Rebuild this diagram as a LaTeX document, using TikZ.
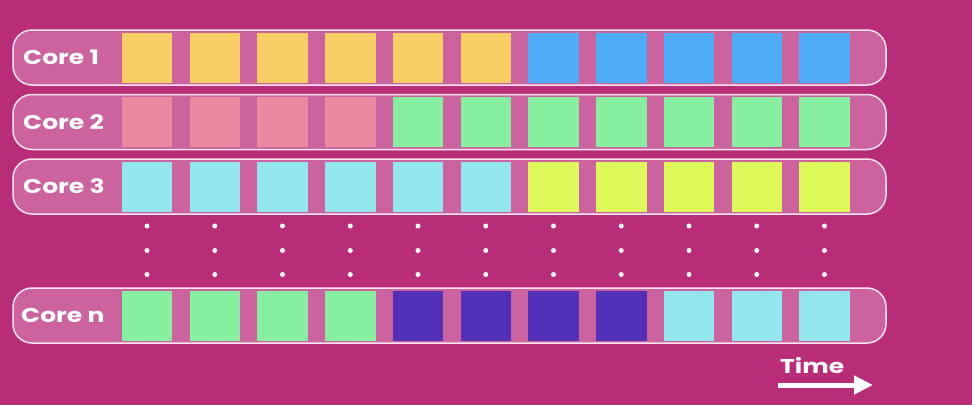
\documentclass[tikz,border=0pt]{standalone}
\usepackage{fontspec}
\setmainfont{Poppins}
\newfontfamily\corefont{Poppins}[FakeStretch=1.25]
\usepackage{tikz}
\usetikzlibrary{arrows.meta}
\definecolor{bgpink}{RGB}{185,45,120}
\definecolor{barpink}{RGB}{204,98,158}
\definecolor{rimpink}{RGB}{250,228,240}
\definecolor{cyel}{RGB}{246,206,100}
\definecolor{cblue}{RGB}{79,173,247}
\definecolor{crose}{RGB}{236,137,160}
\definecolor{cgreen}{RGB}{134,240,160}
\definecolor{ccyan}{RGB}{147,230,238}
\definecolor{clime}{RGB}{221,250,90}
\definecolor{cviolet}{RGB}{82,48,184}

\begin{document}
\begin{tikzpicture}[x=1pt, y=-1pt,
  bar/.style={draw=rimpink, fill=barpink, line width=1.5pt, rounded corners=19pt,
    minimum width=873pt, minimum height=55pt, inner sep=0pt},
  slot/.style={minimum width=50.5pt, minimum height=50pt, inner sep=0pt},
  lbl/.style={text=white, anchor=west, inner sep=0pt, font=\fontsize{20}{20}\corefont\bfseries},
  dot/.style={circle, fill=white, inner sep=0pt, minimum size=5pt}]
  % Background
  \fill[bgpink] (0,0) rectangle (972,405);
  \useasboundingbox (0,0) rectangle (972,405);
  % Bars
  \node[bar] (core1) at (449.5,57.5) {};
  \node[bar] (core2) at (449.5,122) {};
  \node[bar] (core3) at (449.5,186.5) {};
  \node[bar] (coren) at (449.5,315.5) {};
  % Labels
  \node[lbl] (lab1) at (23,57.5) {Core 1};
  \node[lbl] (lab2) at (23,122) {Core 2};
  \node[lbl] (lab3) at (23,186.5) {Core 3};
  \node[lbl] (labn) at (21,315.5) {Core n};
  % Time slots
  \foreach \c [count=\i from 0] in {cyel,cyel,cyel,cyel,cyel,cyel,cblue,cblue,cblue,cblue,cblue}
    \node[slot, fill=\c] (a\i) at ({147+\i*67.75},57.5) {};
  \foreach \c [count=\i from 0] in {crose,crose,crose,crose,cgreen,cgreen,cgreen,cgreen,cgreen,cgreen,cgreen}
    \node[slot, fill=\c] (b\i) at ({147+\i*67.75},122) {};
  \foreach \c [count=\i from 0] in {ccyan,ccyan,ccyan,ccyan,ccyan,ccyan,clime,clime,clime,clime,clime}
    \node[slot, fill=\c] (c\i) at ({147+\i*67.75},186.5) {};
  \foreach \c [count=\i from 0] in {cgreen,cgreen,cgreen,cgreen,cviolet,cviolet,cviolet,cviolet,ccyan,ccyan,ccyan}
    \node[slot, fill=\c] (n\i) at ({147+\i*67.75},315.5) {};
  % Dots between core 3 and core n
  \foreach \i in {0,...,10}
    \foreach \y [count=\j] in {226,250.5,274.5}
      \node[dot] (d\i-\j) at ({147+\i*67.75},\y) {};
  % Time arrow
  \node[lbl] (time) at (780,366) {Time};
  \coordinate (t0) at (778,385);
  \coordinate (t1) at (873,385);
  \draw[white, line width=5pt, -{Triangle[length=19pt, width=18pt]}] (t0) -- (t1);
\end{tikzpicture}
\end{document}
